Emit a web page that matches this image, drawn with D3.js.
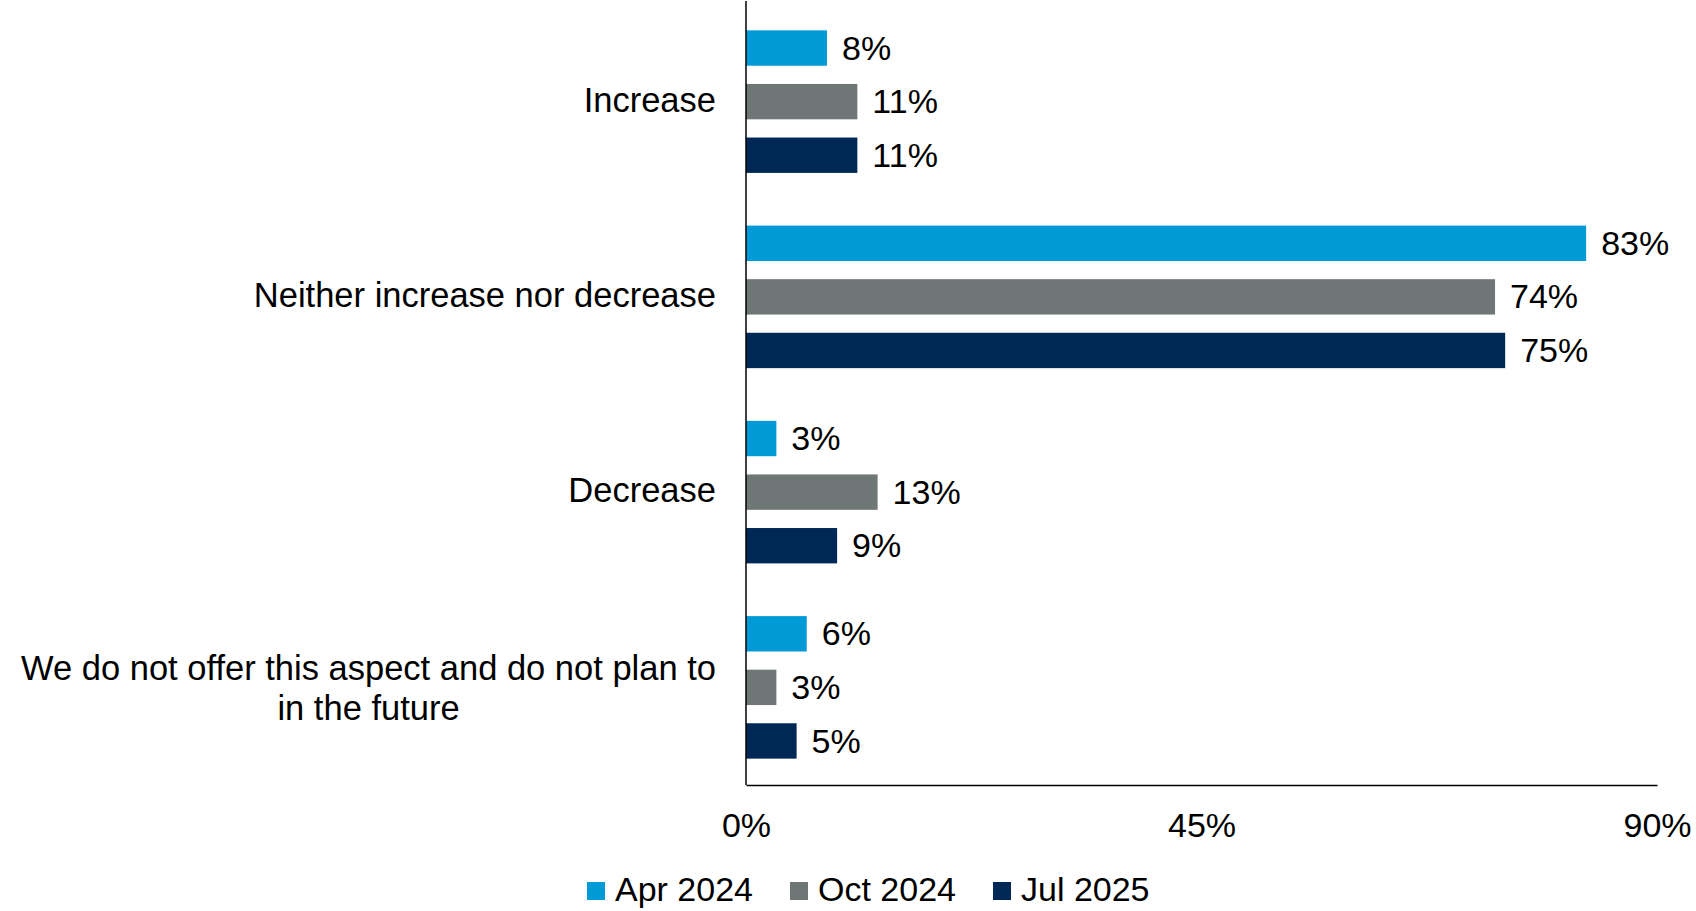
<!DOCTYPE html>
<html>
<head>
<meta charset="utf-8">
<script src="https://cdn.jsdelivr.net/npm/d3@7"></script>
<style>
  html, body { margin: 0; padding: 0; background: #fff; }
  #chart { width: 1696px; height: 911px; }
  text { font-family: "Liberation Sans", Arial, sans-serif; fill: #000; }
</style>
</head>
<body>
<div id="chart"></div>
<script>
const categories = [
    "Increase",
    "Neither increase nor decrease",
    "Decrease",
    "We do not offer this aspect and do not plan to|in the future"
];
const seriesNames = ["Apr 2024", "Oct 2024", "Jul 2025"];
const apr2024 = [8, 83, 3, 6];
const oct2024 = [11, 74, 13, 3];
const jul2025 = [11, 75, 9, 5];
const xTicks = [0, 45, 90];
const colors = ["#009bd6", "#6e7676", "#002856"];

function drawChart() {
    const width = 1696, height = 911;
    const margin = { top: 4, right: 39, bottom: 126, left: 746 };
    const w = width - margin.left - margin.right;
    const h = height - margin.top - margin.bottom;
    const fontSize = 34;
    const catFont = 34.5;

    const svg = d3.select("#chart").append("svg")
        .attr("width", width)
        .attr("height", height);

    const g = svg.append("g")
        .attr("transform", `translate(${margin.left},${margin.top})`);

    const allSeries = [apr2024, oct2024, jul2025];
    const rows = categories.map((c, i) => ({
        cat: c,
        vals: seriesNames.map((s, j) => ({ series: s, idx: j, value: allSeries[j][i] }))
    }));

    const x = d3.scaleLinear().domain([0, 90]).range([0, w]);
    const y0 = d3.scaleBand().domain(categories).range([0, h])
        .paddingInner(0.27).paddingOuter(0.135);
    const y1 = d3.scaleBand().domain(seriesNames).range([0, y0.bandwidth()])
        .paddingInner(0.34).paddingOuter(0);

    // bars
    const groups = g.selectAll(".grp")
        .data(rows)
        .join("g")
        .attr("class", "grp")
        .attr("transform", d => `translate(0,${y0(d.cat)})`);

    groups.selectAll("rect")
        .data(d => d.vals)
        .join("rect")
        .attr("x", 0)
        .attr("y", d => y1(d.series))
        .attr("width", d => x(d.value))
        .attr("height", y1.bandwidth())
        .attr("fill", d => colors[d.idx]);

    groups.selectAll(".val")
        .data(d => d.vals)
        .join("text")
        .attr("class", "val")
        .attr("x", d => x(d.value) + 15)
        .attr("y", d => y1(d.series) + y1.bandwidth() / 2)
        .attr("dy", "0.34em")
        .style("font-size", fontSize + "px")
        .text(d => d.value + "%");

    // x axis
    const xAxis = g.append("g")
        .attr("transform", `translate(0,${h})`)
        .call(d3.axisBottom(x).tickValues(xTicks).tickSize(0).tickPadding(28)
            .tickFormat(d => d + "%"));
    xAxis.select(".domain").attr("stroke", "#000").attr("stroke-width", 1.5);
    xAxis.selectAll("text")
        .style("font-size", fontSize + "px")
        .style("font-family", "Liberation Sans, Arial, sans-serif")
        .attr("fill", "#000");

    // y axis line
    const yAxis = g.append("g")
        .call(d3.axisLeft(y0).tickSize(0).tickFormat(""));
    yAxis.select(".domain").attr("stroke", "#000").attr("stroke-width", 1.5)
        .attr("d", `M0,${-margin.top + 1}V${h}`);

    // category labels (multi-line, block right-aligned, lines centred)
    const labelRight = -30;
    const lineH = 40;
    categories.forEach(c => {
        const lines = c.split("|");
        const t = g.append("text")
            .attr("text-anchor", "middle")
            .style("font-size", catFont + "px");
        const cy = y0(c) + y0.bandwidth() / 2;
        const startY = cy - (lines.length - 1) * lineH / 2;
        lines.forEach((ln, i) => {
            t.append("tspan").attr("y", startY + i * lineH).attr("dy", lines.length > 1 ? "0.36em" : "0.3em").text(ln);
        });
        let maxW = 0;
        t.selectAll("tspan").each(function () {
            maxW = Math.max(maxW, this.getComputedTextLength());
        });
        t.selectAll("tspan").attr("x", labelRight - maxW / 2);
    });

    // legend
    const legend = svg.append("g").attr("transform", "translate(587,882)");
    let lx = 0;
    seriesNames.forEach((s, i) => {
        const item = legend.append("g").attr("transform", `translate(${lx},0)`);
        item.append("rect").attr("width", 18).attr("height", 18).attr("fill", colors[i]);
        const t = item.append("text")
            .attr("x", 28)
            .attr("y", 19)
            .style("font-size", fontSize + "px")
            .text(s);
        lx += 28 + t.node().getComputedTextLength() + 37;
    });
}

drawChart();
</script>
</body>
</html>
